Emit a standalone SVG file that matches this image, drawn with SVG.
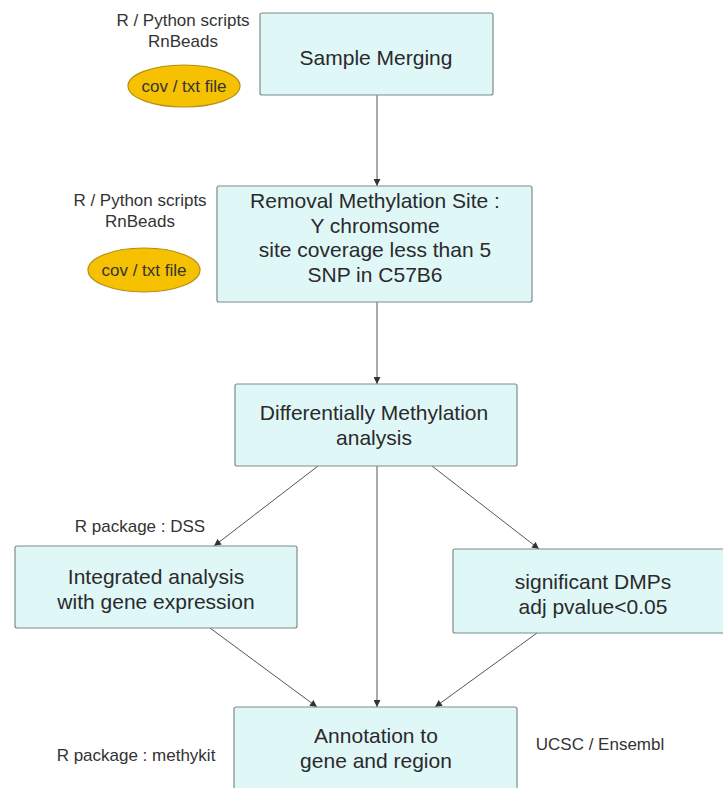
<svg xmlns="http://www.w3.org/2000/svg" width="723" height="788" viewBox="0 0 723 788">
<style>
.box{fill:#e0f7f8;stroke:#7d8b8c;stroke-width:1.2}
.bt{font-family:"Liberation Sans",Arial,sans-serif;font-size:21px;fill:#2a2a2a;text-anchor:middle}
.lt{font-family:"Liberation Sans",Arial,sans-serif;font-size:17px;fill:#333;text-anchor:middle}
.ell{fill:#f6c100;stroke:#b48e10;stroke-width:1.2}
.con{stroke:#555;stroke-width:1;fill:none;marker-end:url(#ah)}
</style>
<defs>
<marker id="ah" viewBox="0 0 10 10" refX="10" refY="5" markerWidth="9" markerHeight="7" markerUnits="userSpaceOnUse" orient="auto">
<path d="M0,0 L10,5 L0,10 z" fill="#333"/>
</marker>
</defs>
<rect width="723" height="788" fill="#ffffff"/>
<g id="connectors">
<line class="con" x1="377" y1="95" x2="377" y2="186"/>
<line class="con" x1="377" y1="302" x2="377" y2="384"/>
<line class="con" x1="318" y1="466" x2="214" y2="546"/>
<line class="con" x1="377" y1="466" x2="377" y2="707"/>
<line class="con" x1="432" y1="466" x2="539" y2="549"/>
<line class="con" x1="210" y1="628" x2="317" y2="707"/>
<line class="con" x1="537" y1="633" x2="435" y2="707"/>
</g>
<g id="label-rnbeads-1">
<text class="lt" x="183" y="26">R / Python scripts</text>
<text class="lt" x="183" y="47">RnBeads</text>
</g>
<g id="file-1">
<ellipse class="ell" cx="184" cy="86" rx="56" ry="21"/>
<text class="lt" x="184" y="92">cov / txt file</text>
</g>
<g id="sample-merging">
<rect class="box" x="260" y="13" width="233" height="82" rx="2"/>
<text class="bt" x="376" y="65">Sample Merging</text>
</g>
<g id="label-rnbeads-2">
<text class="lt" x="140" y="206">R / Python scripts</text>
<text class="lt" x="140" y="227">RnBeads</text>
</g>
<g id="file-2">
<ellipse class="ell" cx="144" cy="270" rx="56" ry="22"/>
<text class="lt" x="144" y="276">cov / txt file</text>
</g>
<g id="removal">
<rect class="box" x="217" y="186" width="315" height="116" rx="2"/>
<text class="bt" x="375" y="208">Removal Methylation Site :</text>
<text class="bt" x="375" y="233">Y chromsome</text>
<text class="bt" x="375" y="257">site coverage less than 5</text>
<text class="bt" x="375" y="282">SNP in C57B6</text>
</g>
<g id="diff-meth">
<rect class="box" x="235" y="384" width="282" height="82" rx="2"/>
<text class="bt" x="374" y="420">Differentially Methylation</text>
<text class="bt" x="374" y="445">analysis</text>
</g>
<g id="label-dss">
<text class="lt" x="140" y="532">R package : DSS</text>
</g>
<g id="integrated">
<rect class="box" x="15" y="546" width="282" height="82" rx="2"/>
<text class="bt" x="156" y="584">Integrated analysis</text>
<text class="bt" x="156" y="609">with gene expression</text>
</g>
<g id="significant">
<rect class="box" x="453" y="549" width="285" height="84" rx="2"/>
<text class="bt" x="593" y="589">significant DMPs</text>
<text class="bt" x="593" y="614">adj pvalue&lt;0.05</text>
</g>
<g id="label-methykit">
<text class="lt" x="136" y="761">R package : methykit</text>
</g>
<g id="annotation">
<rect class="box" x="234" y="707" width="283" height="95" rx="2"/>
<text class="bt" x="376" y="743">Annotation to</text>
<text class="bt" x="376" y="768">gene and region</text>
</g>
<g id="label-ucsc">
<text class="lt" x="600" y="750">UCSC / Ensembl</text>
</g>
</svg>
